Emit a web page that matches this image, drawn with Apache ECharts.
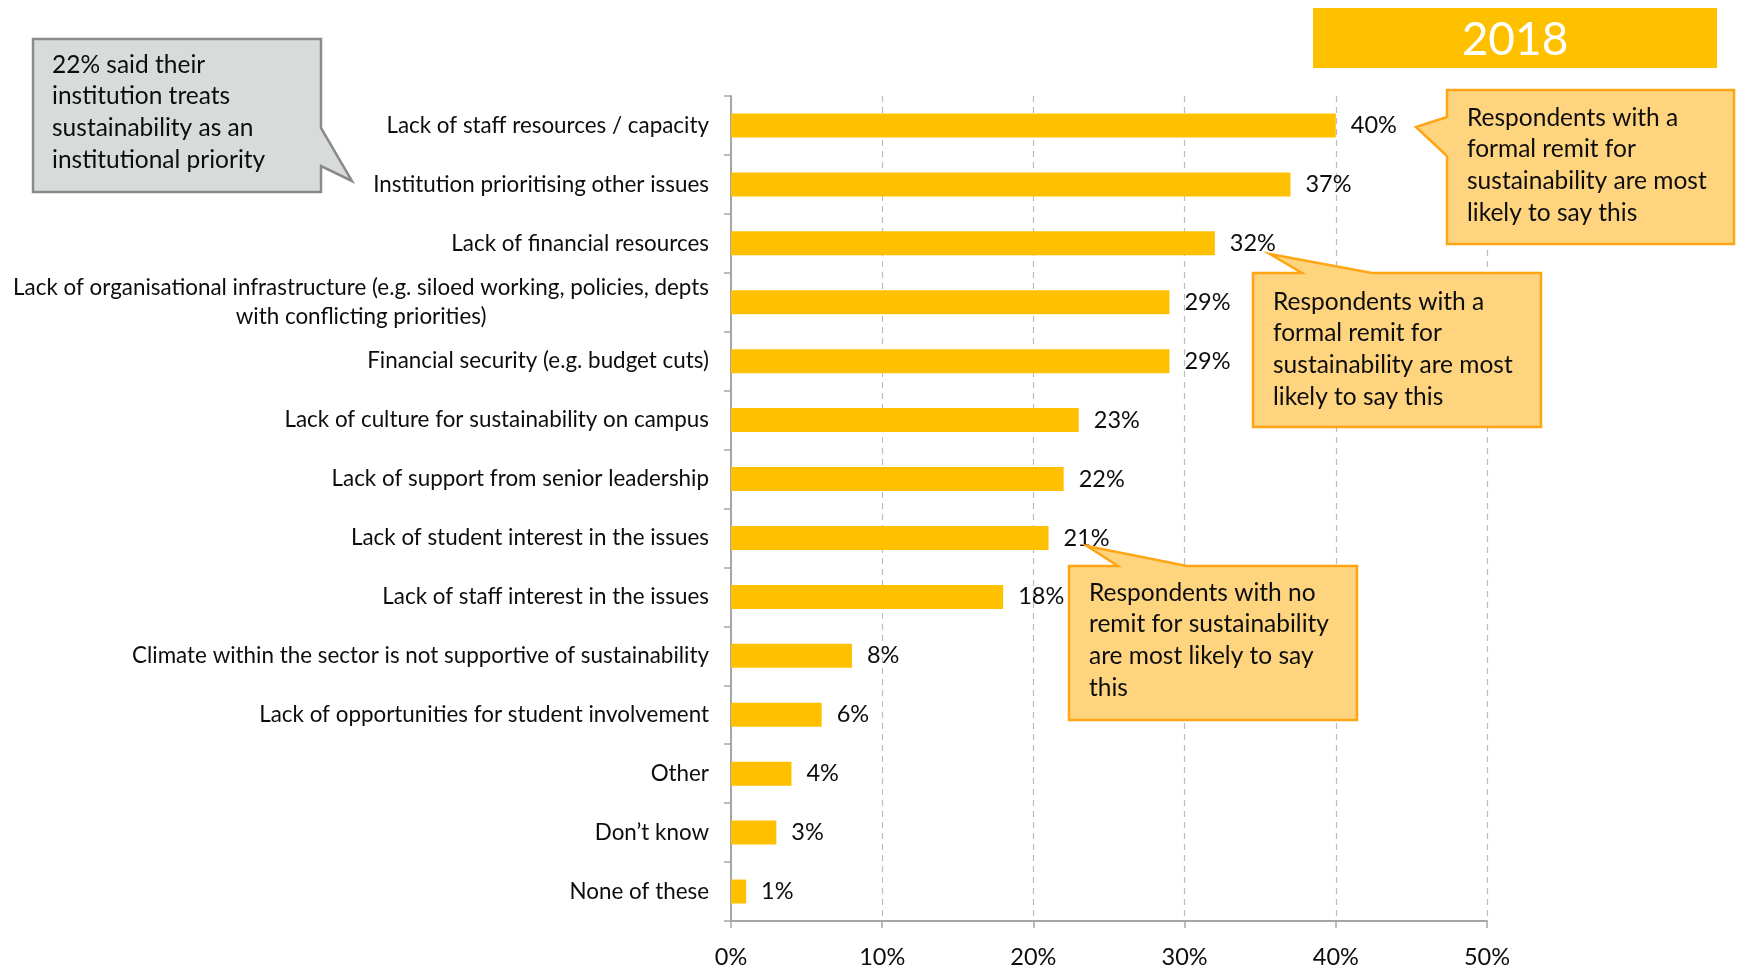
<!DOCTYPE html>
<html>
<head>
<meta charset="utf-8">
<script src="https://cdn.jsdelivr.net/npm/echarts@6/dist/echarts.min.js"></script>
<style>
  html, body { margin: 0; padding: 0; background: #ffffff; }
  #chart { width: 1737px; height: 969px; }
</style>
</head>
<body>
<div id="chart"></div>
<script>
// Barriers to sustainability, share of respondents (%)
const categories = [
  'Lack of staff resources / capacity',
  'Institution prioritising other issues',
  'Lack of financial resources',
  'Lack of organisational infrastructure (e.g. siloed working, policies, depts\nwith conflicting priorities)',
  'Financial security (e.g. budget cuts)',
  'Lack of culture for sustainability on campus',
  'Lack of support from senior leadership',
  'Lack of student interest in the issues',
  'Lack of staff interest in the issues',
  'Climate within the sector is not supportive of sustainability',
  'Lack of opportunities for student involvement',
  'Other',
  'Don\u2019t know',
  'None of these'
];
const values = [40, 37, 32, 29, 29, 23, 22, 21, 18, 8, 6, 4, 3, 1];
const axisTicks = [0, 10, 20, 30, 40, 50];

const yearTitle = '2018';
const noteGray = ['22% said their', 'institution treats', 'sustainability as an', 'institutional priority'];
const noteFormal = ['Respondents with a', 'formal remit for', 'sustainability are most', 'likely to say this'];
const noteNone = ['Respondents with no', 'remit for sustainability', 'are most likely to say', 'this'];

const FONT = 'Lato, "Open Sans", sans-serif';
const TXT = '#0d0d0d';
const GOLD = '#FFC000';
const NOTE_FILL = '#FFD47F';
const NOTE_EDGE = '#FFA514';

const chart = echarts.init(document.getElementById('chart'), null, { renderer: 'canvas' });

function noteText(lines, x, y) {
  return {
    type: 'text',
    z: 20,
    style: {
      text: lines.join('\n'),
      x: x, y: y,
      font: '24.5px ' + FONT,
      fill: TXT,
      lineHeight: 31.7,
      textAlign: 'left',
      textVerticalAlign: 'top'
    }
  };
}

function notePoly(points, fill, stroke, lw) {
  return {
    type: 'polygon',
    z: 15,
    shape: { points: points },
    style: { fill: fill, stroke: stroke, lineWidth: lw, lineJoin: 'miter' }
  };
}

const option = {
  backgroundColor: '#ffffff',
  animation: false,
  textStyle: { fontFamily: FONT },
  grid: { left: 731, right: 250, top: 96, bottom: 47, containLabel: false },
  xAxis: {
    type: 'value',
    min: axisTicks[0],
    max: axisTicks[axisTicks.length - 1],
    interval: 10,
    axisLine: { show: true, lineStyle: { color: '#A6A6A6', width: 2 } },
    axisTick: { show: true, length: 7, lineStyle: { color: '#A6A6A6', width: 1.5 } },
    axisLabel: {
      formatter: v => v + '%',
      color: TXT, fontSize: 23.5, fontFamily: FONT, margin: 24
    },
    splitLine: { show: true, lineStyle: { color: '#B4BEBE', type: [6, 5], width: 1.2 } }
  },
  yAxis: {
    type: 'category',
    inverse: true,
    data: categories,
    axisLine: { show: true, lineStyle: { color: '#A6A6A6', width: 2 } },
    axisTick: { show: true, length: 7, lineStyle: { color: '#A6A6A6', width: 1.5 } },
    axisLabel: {
      color: TXT, fontSize: 22.4, fontFamily: FONT, margin: 22, align: 'right',
      formatter: function (v) {
        if (v.indexOf('\n') < 0) return v;
        return v.split('\n').map(s => '{c|' + s + '}').join('\n');
      },
      rich: { c: { align: 'center', fontSize: 22.4, fontFamily: FONT, color: TXT, lineHeight: 29 } }
    },
    splitLine: { show: false }
  },
  series: [{
    type: 'bar',
    data: values,
    barWidth: 24,
    itemStyle: { color: GOLD },
    label: {
      show: true, position: 'right', distance: 15,
      formatter: p => p.value + '%',
      color: TXT, fontSize: 23.5, fontFamily: FONT
    }
  }],
  graphic: [
    // year banner
    { type: 'rect', z: 10, shape: { x: 1313, y: 8, width: 404, height: 60 }, style: { fill: GOLD } },
    { type: 'text', z: 11, style: { text: yearTitle, x: 1515, y: 40, font: '46px ' + FONT, fill: '#ffffff', textAlign: 'center', textVerticalAlign: 'middle' } },

    // grey note, upper left
    notePoly([[33, 39], [321, 39], [321, 128], [352, 181], [321, 166], [321, 192], [33, 192]], '#D7DCDA', '#8A8A8A', 2.5),
    noteText(noteGray, 52, 49),

    // formal remit note beside the top bar
    notePoly([[1447, 90], [1734, 90], [1734, 244], [1447, 244], [1447, 156], [1416, 127], [1447, 117]], NOTE_FILL, NOTE_EDGE, 2.5),
    noteText(noteFormal, 1467, 102),

    // formal remit note under the 32% bar
    notePoly([[1253, 273], [1302, 273], [1270, 254], [1372, 273], [1541, 273], [1541, 427], [1253, 427]], NOTE_FILL, NOTE_EDGE, 2.5),
    noteText(noteFormal, 1273, 286),

    // no remit note under the 21% bar
    notePoly([[1069, 566], [1118, 566], [1087, 546], [1187, 566], [1357, 566], [1357, 720], [1069, 720]], NOTE_FILL, NOTE_EDGE, 2.5),
    noteText(noteNone, 1089, 577)
  ]
};

chart.setOption(option);
</script>
</body>
</html>
